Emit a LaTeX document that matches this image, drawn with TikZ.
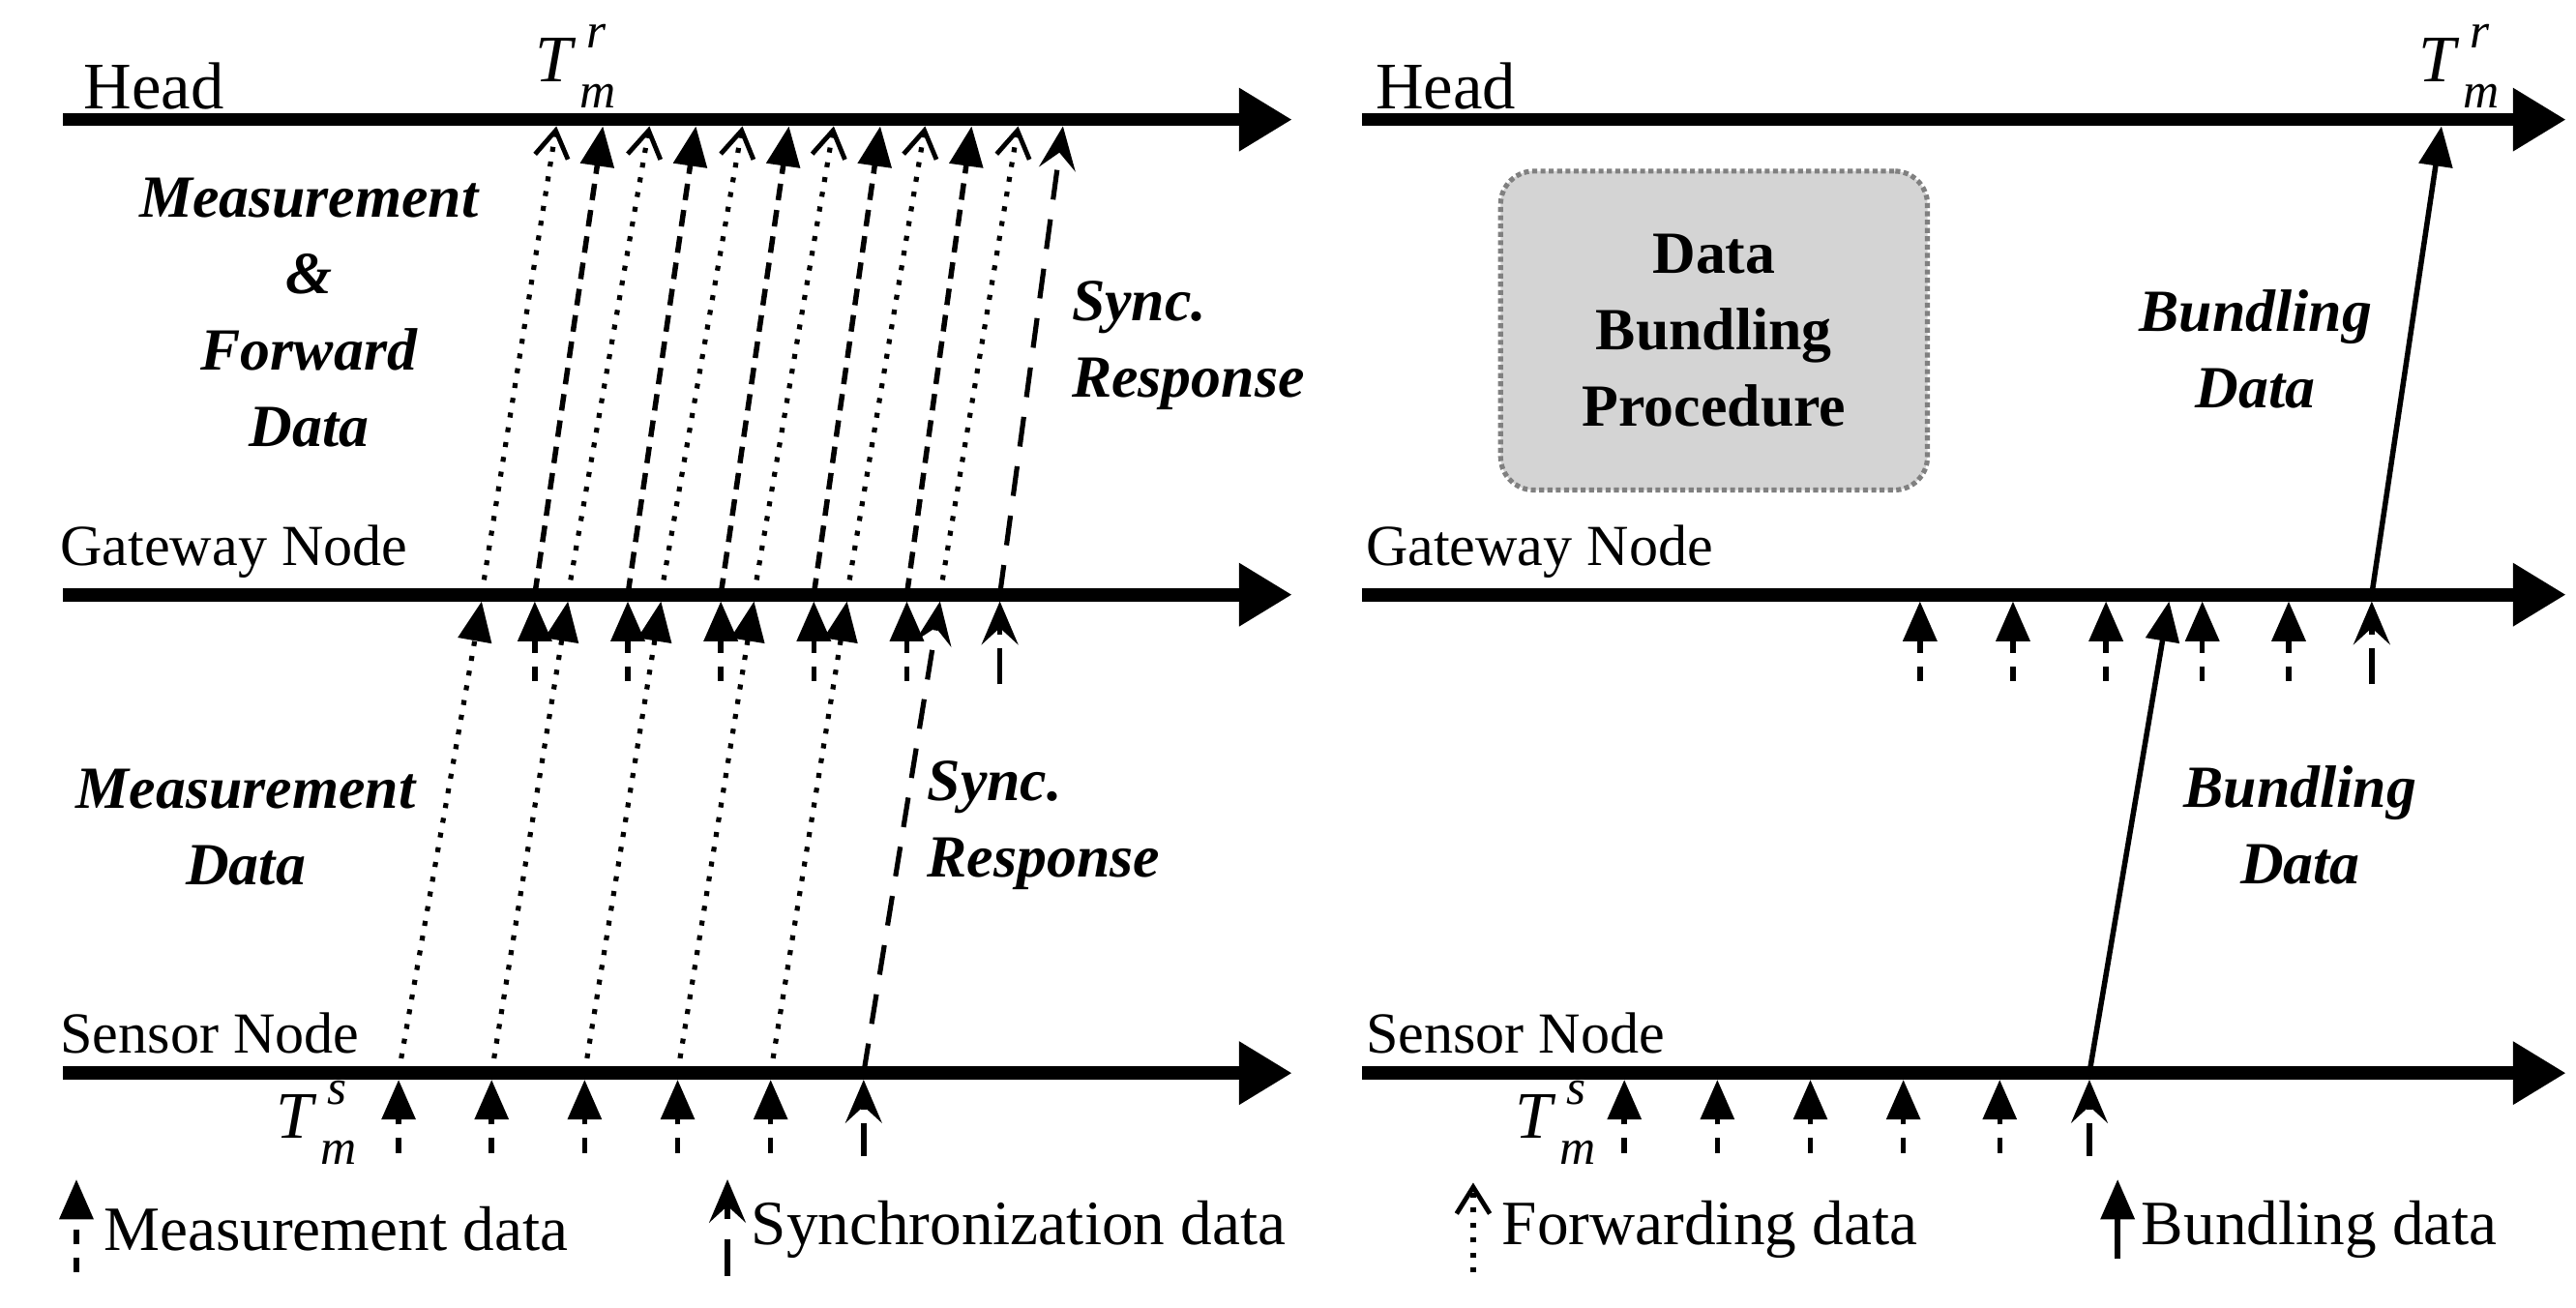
\documentclass[tikz,border=0pt]{standalone}
\usepackage{fontspec}
\setmainfont{Liberation Serif}
\usetikzlibrary{arrows.meta}
\usetikzlibrary{positioning}
\definecolor{boxGray}{HTML}{d4d4d4}
\newcommand{\Tm}[1]{\textit{T}\kern1pt\raisebox{0.5em}{\rlap{\fontsize{15}{15}\selectfont\kern2pt\textit{#1}}}\raisebox{-0.4em}{\fontsize{15}{15}\selectfont\textit{m}}}
\tikzset{
    timeline/.style={line width=4pt, -{Triangle[length=16pt,width=18pt]}},
    filledTip/.style={-{Triangle[length=12pt,width=10pt]}},
    openTip/.style={-{Straight Barb[length=8pt,width=10pt,line width=1.4pt]}},
    syncTip/.style={-{Stealth[length=13pt,width=11pt,inset=5pt]}},
    measLine/.style={line width=1.6pt, dash pattern=on 4.5pt off 4pt},
    fwdLine/.style={line width=1.5pt, dash pattern=on 1.5pt off 3pt},
    syncLine/.style={line width=1.5pt, dash pattern=on 9pt off 6pt},
    bundleLine/.style={line width=1.6pt},
    axisLabel/.style={font=\fontsize{17.5}{20}\selectfont, anchor=west, inner sep=0pt},
    phaseLabel/.style={font=\fontsize{18}{23}\selectfont\bfseries\itshape, inner sep=0pt},
    legendLabel/.style={font=\fontsize{19}{20}\selectfont, anchor=west, inner sep=0pt},
    timeLabel/.style={font=\fontsize{20}{22}\selectfont, inner sep=0pt},
}
\begin{document}
\begin{tikzpicture}[x=0.5pt, y=-0.5pt]
    \useasboundingbox (0,0) rectangle (1551,787);

    % time lines
    \foreach \name/\xa/\xb in {L/38/778, R/820/1545} {
        \coordinate (head\name_a) at (\xa,72);   \coordinate (head\name_b) at (\xb,72);
        \coordinate (gw\name_a) at (\xa,358);    \coordinate (gw\name_b) at (\xb,358);
        \coordinate (sn\name_a) at (\xa,646);    \coordinate (sn\name_b) at (\xb,646);
        \draw [timeline] (head\name_a) -- (head\name_b);
        \draw [timeline] (gw\name_a) -- (gw\name_b);
        \draw [timeline] (sn\name_a) -- (sn\name_b);
    }
    \node (headL) [timeLabel, anchor=west] at (50,52) {Head};
    \node (headR) [timeLabel, anchor=west] at (828,52) {Head};
    \node (gwL) [axisLabel] at (36,332) {Gateway Node};
    \node (gwR) [axisLabel] at (822,332) {Gateway Node};
    \node (snL) [axisLabel] at (36,622) {Sensor Node};
    \node (snR) [axisLabel] at (822,622) {Sensor Node};
    \node (TrL) [timeLabel, anchor=west] at (322,40) {\Tm{r}};
    \node (TrR) [timeLabel, anchor=west] at (1456,40) {\Tm{r}};
    \node (TsL) [timeLabel, anchor=west] at (166,676) {\Tm{s}};
    \node (TsR) [timeLabel, anchor=west] at (912,676) {\Tm{s}};

    % left: sensor measurements and forwarding to gateway
    \foreach \xs/\xg [count=\i] in {240/290, 296/342, 352/398, 408/454, 464/510} {
        \coordinate (sL\i_t) at (\xs,694); \coordinate (sL\i) at (\xs,650);
        \coordinate (sL\i_g) at (\xs,646); \coordinate (gL\i_s) at (\xg,362);
        \draw [measLine, filledTip] (sL\i_t) -- (sL\i);
        \draw [fwdLine, filledTip] (sL\i_g) -- (gL\i_s);
    }
    \coordinate (sLs_t) at (520,696); \coordinate (sLs_b) at (520,676);
    \coordinate (sLs_h) at (520,668); \coordinate (sLs) at (520,650);
    \coordinate (sLs_g) at (520,646); \coordinate (gLs_s) at (566,362);
    \draw [bundleLine] (sLs_t) -- (sLs_b);
    \draw [bundleLine, syncTip] (sLs_h) -- (sLs);
    \draw [syncLine, syncTip] (sLs_g) -- (gLs_s);

    % left: gateway measurements
    \foreach \xg [count=\i] in {322, 378, 434, 490, 546} {
        \coordinate (gL\i_t) at (\xg,410); \coordinate (gL\i) at (\xg,362);
        \draw [measLine, filledTip] (gL\i_t) -- (gL\i);
    }
    \coordinate (gLs_t) at (602,412); \coordinate (gLs_b) at (602,390);
    \coordinate (gLs_h) at (602,382); \coordinate (gLs) at (602,362);
    \draw [bundleLine] (gLs_t) -- (gLs_b);
    \draw [bundleLine, syncTip] (gLs_h) -- (gLs);

    % left: gateway to head
    \foreach \xg/\xh/\kind [count=\i] in {290/335/fwd, 322/363/meas, 342/391/fwd, 378/419/meas,
            398/447/fwd, 434/475/meas, 454/502/fwd, 490/530/meas, 510/557/fwd, 546/585/meas, 566/613/fwd} {
        \coordinate (gU\i) at (\xg,358); \coordinate (hU\i) at (\xh,76);
        \ifnum\pdfstrcmp{\kind}{fwd}=0
            \draw [fwdLine, openTip] (gU\i) -- (hU\i);
        \else
            \draw [line width=1.6pt, dash pattern=on 5pt off 3pt, filledTip] (gU\i) -- (hU\i);
        \fi
    }
    \coordinate (gUs) at (602,358); \coordinate (hUs) at (640,76);
    \draw [syncLine, syncTip] (gUs) -- (hUs);

    \node (measFwd) [phaseLabel, align=center] at (186,188) {Measurement\\\&\\Forward\\Data};
    \node (syncUp) [phaseLabel, align=left, anchor=west] at (645,208) {Sync.\\Response};
    \node (measDat) [phaseLabel, align=center] at (148,498) {Measurement\\Data};
    \node (syncLo) [phaseLabel, align=left, anchor=west] at (558,497) {Sync.\\Response};

    % right: sensor and gateway measurements
    \foreach \xs [count=\i] in {978, 1034, 1090, 1146, 1204} {
        \coordinate (sR\i_t) at (\xs,694); \coordinate (sR\i) at (\xs,650);
        \draw [measLine, filledTip] (sR\i_t) -- (sR\i);
    }
    \foreach \xg [count=\i] in {1156, 1212, 1268, 1326, 1378} {
        \coordinate (gR\i_t) at (\xg,410); \coordinate (gR\i) at (\xg,362);
        \draw [measLine, filledTip] (gR\i_t) -- (gR\i);
    }
    \coordinate (sRs_t) at (1258,696); \coordinate (sRs_b) at (1258,676);
    \coordinate (sRs_h) at (1258,668); \coordinate (sRs) at (1258,650);
    \draw [bundleLine] (sRs_t) -- (sRs_b);
    \draw [bundleLine, syncTip] (sRs_h) -- (sRs);
    \coordinate (gRs_t) at (1428,412); \coordinate (gRs_b) at (1428,390);
    \coordinate (gRs_h) at (1428,382); \coordinate (gRs) at (1428,362);
    \draw [bundleLine] (gRs_t) -- (gRs_b);
    \draw [bundleLine, syncTip] (gRs_h) -- (gRs);

    % right: bundling
    \coordinate (sRb) at (1258,646); \coordinate (gRb_in) at (1306,362);
    \coordinate (gRb) at (1428,358); \coordinate (hRb) at (1470,76);
    \draw [bundleLine, filledTip] (sRb) -- (gRb_in);
    \draw [bundleLine, filledTip] (gRb) -- (hRb);

    \node (bundleProc) [draw=gray, densely dotted, line width=1.5pt, fill=boxGray, rounded corners=10pt,
        minimum width=257*0.5pt, minimum height=192*0.5pt, align=center,
        font=\fontsize{18}{23}\selectfont\bfseries] at (1032,199) {Data\\Bundling\\Procedure};
    \node (bundleUp) [phaseLabel, align=center] at (1358,210) {Bundling\\Data};
    \node (bundleLo) [phaseLabel, align=center] at (1385,497) {Bundling\\Data};

    % legend
    \coordinate (lgMeas_t) at (46,766); \coordinate (lgMeas) at (46,710);
    \draw [measLine, filledTip] (lgMeas_t) -- (lgMeas);
    \node (lgMeasTxt) [legendLabel] at (62,740) {Measurement data};
    \coordinate (lgSync_t) at (438,768); \coordinate (lgSync_b) at (438,746);
    \coordinate (lgSync_h) at (438,734); \coordinate (lgSync) at (438,710);
    \draw [bundleLine] (lgSync_t) -- (lgSync_b);
    \draw [bundleLine, syncTip] (lgSync_h) -- (lgSync);
    \node (lgSyncTxt) [legendLabel] at (452,740) {Synchronization data};
    \coordinate (lgFwd_t) at (887,766); \coordinate (lgFwd) at (887,712);
    \draw [fwdLine, openTip] (lgFwd_t) -- (lgFwd);
    \node (lgFwdTxt) [legendLabel] at (904,740) {Forwarding data};
    \coordinate (lgBnd_t) at (1275,758); \coordinate (lgBnd) at (1275,710);
    \draw [bundleLine, filledTip] (lgBnd_t) -- (lgBnd);
    \node (lgBndTxt) [legendLabel] at (1289,740) {Bundling data};
\end{tikzpicture}
\end{document}
